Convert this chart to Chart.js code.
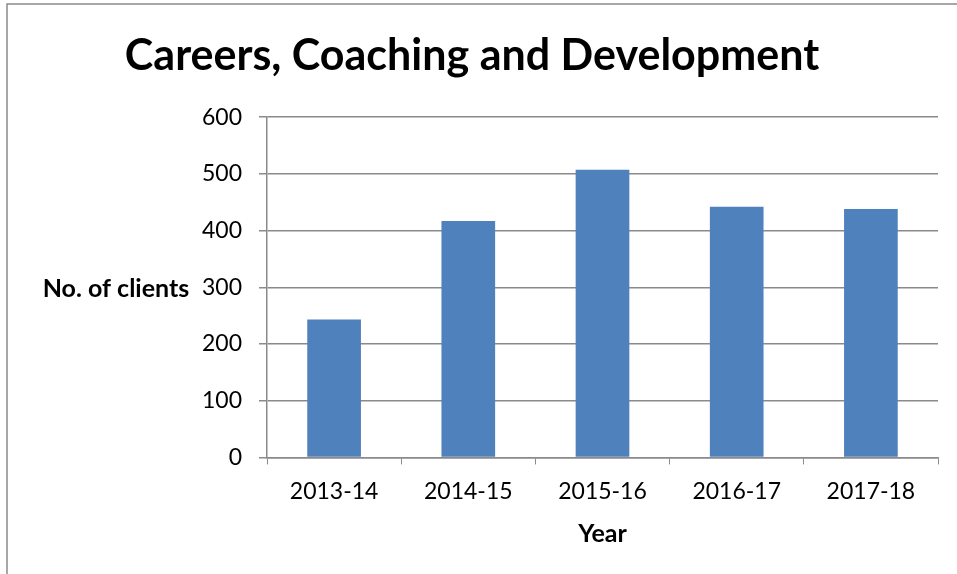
<!DOCTYPE html>
<html>
<head>
<meta charset="utf-8">
<script src="https://cdn.jsdelivr.net/npm/chart.js@4.4.0/dist/chart.umd.min.js"></script>
<style>
  html, body { margin: 0; padding: 0; background: #fff; }
  #wrap { width: 957px; height: 574px; }
</style>
</head>
<body>
<div id="wrap"><canvas id="barChart" width="957" height="574"></canvas></div>
<script>
// values
const years = ['2013-14', '2014-15', '2015-16', '2016-17', '2017-18'];
const clients = [243, 417, 507, 442, 438];
const yTicks = [0, 100, 200, 300, 400, 500, 600];

const FONT = 'Lato, "Open Sans", sans-serif';

// frame line round the chart + horizontal y axis title (Excel style)
const frameAndLabel = {
  id: 'frameAndLabel',
  beforeDraw(chart) {
    const c = chart.ctx;
    c.save();
    c.strokeStyle = '#8a8a8a';
    c.lineWidth = 1.5;
    c.strokeRect(7, 4, 1200, 1000);
    c.restore();
  },
  afterDraw(chart) {
    const c = chart.ctx;
    const y = chart.scales.y;
    c.save();
    c.font = 'bold 25px ' + FONT;
    c.fillStyle = '#000';
    c.textAlign = 'center';
    c.textBaseline = 'middle';
    c.fillText('No. of clients', 116, y.getPixelForValue(300) + 2);
    c.restore();
  }
};

const ctx = document.getElementById('barChart').getContext('2d');

const barChart = new Chart(ctx, {
  type: 'bar',
  data: {
    labels: years,
    datasets: [{
      label: 'No. of clients',
      data: clients,
      backgroundColor: '#4F81BD',
      borderWidth: 0,
      barPercentage: 0.4,
      categoryPercentage: 1.0
    }]
  },
  plugins: [frameAndLabel],
  options: {
    responsive: false,
    animation: false,
    devicePixelRatio: 1,
    layout: {
      padding: { left: 6, right: 19, top: 0, bottom: 25 }
    },
    plugins: {
      legend: { display: false },
      tooltip: { enabled: false },
      title: {
        display: true,
        text: 'Careers, Coaching and Development',
        color: '#000',
        font: { family: FONT, size: 43, weight: 'bold' },
        padding: { top: 30, bottom: 35.5 }
      }
    },
    scales: {
      x: {
        grid: {
          display: true,
          drawOnChartArea: false,
          drawTicks: true,
          tickLength: 7,
          color: '#8a8a8a',
          offset: true
        },
        border: { display: true, color: '#8a8a8a', width: 1.5 },
        ticks: {
          color: '#000',
          font: { family: FONT, size: 23 },
          padding: 13.5
        },
        title: {
          display: true,
          text: 'Year',
          color: '#000',
          font: { family: FONT, size: 25, weight: 'bold' },
          padding: { top: 0, bottom: 0 }
        }
      },
      y: {
        min: 0,
        max: 600,
        afterBuildTicks(scale) {
          scale.ticks = yTicks.map(v => ({ value: v }));
        },
        afterFit(scale) {
          scale.width = 261;
        },
        grid: {
          color: '#8a8a8a',
          lineWidth: 1.5,
          drawTicks: true,
          tickLength: 8
        },
        border: { display: true, color: '#8a8a8a', width: 1.5 },
        ticks: {
          color: '#000',
          font: { family: FONT, size: 23 },
          padding: 17
        }
      }
    }
  }
});
</script>
</body>
</html>
